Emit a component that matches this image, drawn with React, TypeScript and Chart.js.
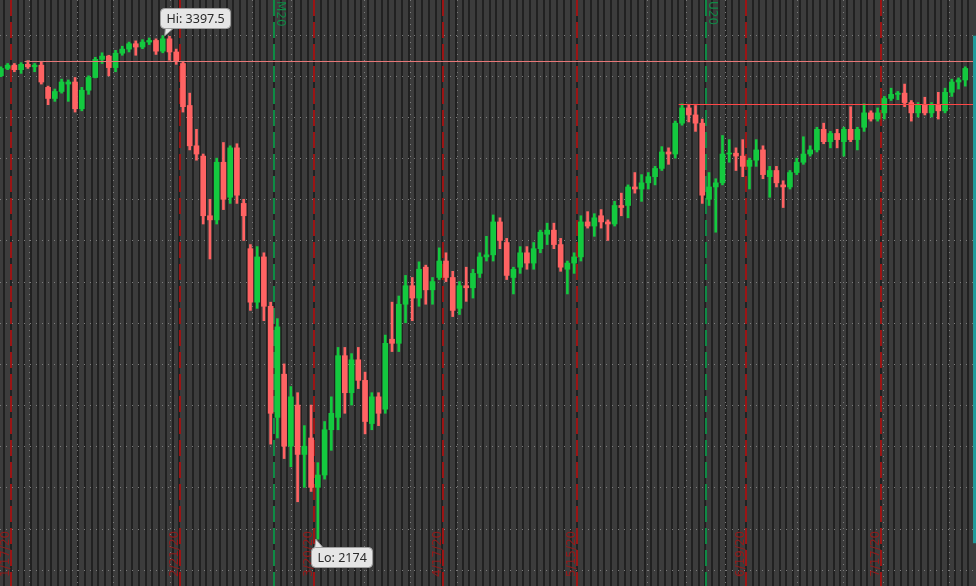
import React, { useEffect, useRef } from 'react';
import { Chart, registerables } from 'chart.js';
Chart.register(...registerables);

// ---- data (one candle per trading session) ----
const dates = ['1/16','1/17','1/20','1/21','1/22','1/23','1/24','1/27','1/28','1/29','1/30','1/31','2/3','2/4','2/5','2/6','2/7','2/10','2/11','2/12','2/13','2/14','2/17','2/18','2/19','2/20','2/21','2/24','2/25','2/26','2/27','2/28','3/2','3/3','3/4','3/5','3/6','3/9','3/10','3/11','3/12','3/13','3/16','3/17','3/18','3/19','3/20','3/23','3/24','3/25','3/26','3/27','3/30','3/31','4/1','4/2','4/3','4/6','4/7','4/8','4/9','4/13','4/14','4/15','4/16','4/17','4/20','4/21','4/22','4/23','4/24','4/27','4/28','4/29','4/30','5/1','5/4','5/5','5/6','5/7','5/8','5/11','5/12','5/13','5/14','5/15','5/18','5/19','5/20','5/21','5/22','5/25','5/26','5/27','5/28','5/29','6/1','6/2','6/3','6/4','6/5','6/8','6/9','6/10','6/11','6/12','6/15','6/16','6/17','6/18','6/19','6/22','6/23','6/24','6/25','6/26','6/29','6/30','7/1','7/2','7/3','7/6','7/7','7/8','7/9','7/10','7/13','7/14','7/15','7/16','7/17','7/20','7/21','7/22','7/23','7/24','7/27','7/28','7/29','7/30','7/31','8/3','8/4','8/5'];

const opens = [3300,3318,3326,3315,3328,3322,3326,3272,3245,3262,
3280,3285,3220,3265,3296,3340,3348,3320,3355,3365,
3378,3370,3382,3386,3360,3390,3358,3330,3228,3130,
3105,2960,2950,3090,3005,3125,2990,2880,2750,2860,
2740,2470,2575,2400,2500,2380,2420,2300,2330,2440,
2470,2620,2530,2610,2560,2455,2520,2490,2660,2650,
2745,2790,2760,2835,2780,2810,2850,2810,2735,2790,
2785,2820,2860,2865,2945,2895,2810,2835,2870,2845,
2880,2915,2925,2890,2830,2845,2860,2945,2935,2960,
2945,2940,2985,2985,3030,3025,3040,3055,3075,3115,
3110,3185,3222,3205,3185,3000,3030,3040,3110,3112,
3105,3080,3095,3120,3055,3070,3035,3030,3065,3090,
3110,3120,3170,3140,3160,3140,3170,3145,3175,3210,
3195,3210,3245,3255,3258,3235,3210,3230,3210,3230,
3215,3260,3285,3290];

const highs = [3322,3330,3330,3332,3337,3330,3334,3275,3268,3292,
3290,3296,3272,3300,3345,3356,3350,3362,3372,3382,
3385,3388,3392,3390,3397.5,3396,3365,3335,3258,3170,
3110,3000,3100,3138,3130,3135,3000,2890,2885,2870,
2750,2710,2600,2545,2530,2450,2500,2360,2460,2520,
2640,2640,2625,2640,2580,2530,2530,2670,2750,2765,
2815,2810,2848,2840,2810,2882,2870,2825,2800,2835,
2830,2870,2910,2962,2955,2905,2835,2885,2885,2895,
2925,2942,2942,2905,2850,2870,2960,2970,2965,2975,
2950,2995,3015,3035,3065,3060,3065,3080,3128,3125,
3190,3232,3230,3228,3195,3065,3050,3155,3145,3125,
3145,3100,3145,3130,3080,3080,3045,3070,3100,3152,
3130,3175,3185,3165,3170,3175,3225,3175,3232,3215,
3222,3250,3270,3262,3280,3240,3235,3248,3235,3260,
3270,3292,3295,3322];

const lows = [3298,3315,3310,3306,3318,3310,3280,3230,3238,3258,
3238,3212,3215,3255,3295,3330,3300,3310,3350,3358,
3350,3366,3376,3352,3356,3338,3328,3212,3120,3095,
2940,2855,2940,2975,2990,2990,2900,2730,2735,2705,
2405,2420,2370,2350,2265,2300,2290,2174,2320,2390,
2440,2480,2500,2540,2430,2440,2450,2480,2630,2630,
2700,2705,2740,2745,2745,2805,2800,2715,2720,2752,
2760,2810,2850,2850,2880,2805,2770,2820,2830,2830,
2870,2890,2880,2825,2770,2820,2850,2930,2910,2930,
2900,2935,2960,2955,3015,2995,3025,3035,3070,3085,
3100,3180,3188,3165,2990,2985,2920,3035,3090,3070,
3055,3025,3080,3050,3005,3030,2980,3025,3060,3085,
3105,3115,3135,3125,3125,3105,3140,3120,3165,3190,
3190,3195,3240,3242,3225,3190,3200,3205,3200,3195,
3210,3250,3268,3275];

const closes = [3318,3326,3315,3328,3322,3326,3285,3245,3262,3285,
3285,3220,3265,3296,3340,3348,3320,3355,3365,3378,
3370,3382,3386,3360,3390,3358,3336,3225,3130,3110,
2960,2950,3090,3000,3125,3010,2960,2750,2860,2740,
2480,2690,2400,2520,2380,2400,2300,2330,2440,2480,
2620,2530,2610,2560,2460,2520,2480,2650,2650,2745,
2790,2760,2830,2780,2800,2850,2810,2730,2790,2785,
2820,2860,2865,2945,2900,2815,2830,2870,2845,2880,
2920,2925,2890,2835,2845,2860,2945,2935,2955,2945,
2940,2985,2980,3030,3025,3040,3055,3075,3115,3110,
3185,3222,3205,3185,3010,3030,3040,3110,3112,3105,
3080,3095,3120,3060,3070,3040,3030,3065,3090,3110,
3120,3170,3140,3160,3145,3170,3145,3170,3210,3195,
3210,3245,3255,3258,3235,3210,3230,3210,3230,3215,
3260,3285,3290,3318];

// monthly option expirations (drawn at the end of that session)
const expiryDates = ['1/17','2/21','3/20','4/17','5/15','6/19','7/17'];
const expiryLabels = ['1/17/20','2/21/20','3/20/20','4/17/20','5/15/20','6/19/20','7/17/20'];
// futures roll dates
const rollDates = ['3/12','6/11'];
const rollLabels = ['M20','U20'];
// horizontal price levels (start session, price)
const levelDates = ['1/22','6/8'];
const levelValues = [3335.5, 3231];
// price grid (every 100 points)
const priceTicks = [2100,2200,2300,2400,2500,2600,2700,2800,2900,3000,3100,3200,3300,3400];
// time grid positions (in session units)
const timeTicks = [4.21,11.33,16.58,25.08,37.19,42.97,53.89,60.66,67.59,95.85,101.59,107.37,118.0,124.9,130.84,140.63];

const GREEN = '#14c93f';
const RED = '#ff6363';

export default function App() {
  const ref = useRef<HTMLCanvasElement | null>(null);

  useEffect(() => {
    document.body.style.margin = '0';
    document.body.style.background = '#3c3c3c';
    const canvas = ref.current!;
    const n = dates.length;
    const idx = (d: string) => dates.indexOf(d);
    const colors = closes.map((c, i) => (c >= opens[i] ? GREEN : RED));

    const hiIdx = highs.indexOf(Math.max(...highs));
    const loIdx = lows.indexOf(Math.min(...lows));

    const bgPlugin = {
      id: 'bg',
      beforeDraw(chart: any) {
        const { ctx, scales } = chart;
        const x = scales.x, y = scales.y;
        const W = chart.width, H = chart.height;
        ctx.save();
        ctx.fillStyle = '#3c3c3c';
        ctx.fillRect(0, 0, W, H);
        ctx.fillStyle = '#212121';
        for (let j = -1; j < n; j++) {
          const xb = x.getPixelForValue(j + 0.5);
          ctx.fillRect(Math.round(xb - 1.2), 0, 2, H);
        }
        ctx.strokeStyle = '#7c7c7c';
        ctx.lineWidth = 1;
        ctx.setLineDash([1, 5]);
        priceTicks.forEach((p) => {
          const yy = Math.round(y.getPixelForValue(p)) + 0.5;
          ctx.beginPath();
          ctx.moveTo(0, yy);
          ctx.lineTo(W, yy);
          ctx.stroke();
        });
        timeTicks.forEach((v) => {
          const xx = Math.round(x.getPixelForValue(v)) + 0.5;
          ctx.beginPath();
          ctx.moveTo(xx, 0);
          ctx.lineTo(xx, H);
          ctx.stroke();
        });
        // dashed vertical markers
        ctx.lineWidth = 2;
        ctx.setLineDash([16, 6]);
        ctx.strokeStyle = '#9c1414';
        expiryDates.forEach((d) => {
          const xx = Math.round(x.getPixelForValue(idx(d) + 0.5));
          ctx.beginPath();
          ctx.moveTo(xx, 0);
          ctx.lineTo(xx, H);
          ctx.stroke();
        });
        ctx.strokeStyle = '#0f8a45';
        rollDates.forEach((d) => {
          const xx = Math.round(x.getPixelForValue(idx(d) + 0.5));
          ctx.beginPath();
          ctx.moveTo(xx, 0);
          ctx.lineTo(xx, H);
          ctx.stroke();
        });
        ctx.restore();
      },
      afterDatasetsDraw(chart: any) {
        const { ctx, scales } = chart;
        const x = scales.x, y = scales.y;
        const W = chart.width;
        ctx.save();
        // horizontal levels
        ctx.lineWidth = 1;
        ctx.setLineDash([]);
        levelDates.forEach((d, k) => {
          const xs = x.getPixelForValue(idx(d) - 0.5);
          const yy = Math.round(y.getPixelForValue(levelValues[k])) + 0.5;
          ctx.strokeStyle = k === 0 ? '#e77878' : '#ff4646';
          ctx.beginPath();
          ctx.moveTo(xs, yy);
          ctx.lineTo(W, yy);
          ctx.stroke();
        });
        // right-edge range bar
        ctx.fillStyle = '#229b9b';
        const yh = y.getPixelForValue(highs[hiIdx]);
        const yl = y.getPixelForValue(lows[loIdx]);
        ctx.fillRect(W - 3, yh, 3, yl - yh + 4);

        // date labels
        ctx.font = '12px "DejaVu Sans"';
        ctx.fillStyle = '#961a1a';
        ctx.textAlign = 'left';
        ctx.textBaseline = 'alphabetic';
        expiryDates.forEach((d, k) => {
          const xx = Math.round(x.getPixelForValue(idx(d) + 0.5));
          ctx.save();
          ctx.translate(xx - 2, 577);
          ctx.rotate(-Math.PI / 2);
          ctx.fillText(expiryLabels[k], 0, 0);
          ctx.restore();
        });
        ctx.fillStyle = '#0f8a45';
        rollDates.forEach((d, k) => {
          const xx = Math.round(x.getPixelForValue(idx(d) + 0.5));
          ctx.save();
          ctx.translate(xx + 3, 0);
          ctx.rotate(Math.PI / 2);
          ctx.fillText(rollLabels[k], 1, 0);
          ctx.restore();
        });

        // Hi / Lo callouts
        const callout = (text: string, tx: number, ty: number, below: boolean) => {
          ctx.font = '12.5px "Noto Sans"';
          const tw = ctx.measureText(text).width;
          const w = Math.round(tw + 12);
          const h = 20;
          const left = Math.round(tx - 5) + 0.5;
          const top = Math.round(below ? ty + 8 : ty - 28) + 0.5;
          ctx.fillStyle = '#e6e6e6';
          ctx.strokeStyle = '#a0a0a0';
          ctx.lineWidth = 1;
          ctx.beginPath();
          if (below) {
            ctx.moveTo(left + 3, top + 2);
            ctx.lineTo(tx, ty);
            ctx.lineTo(left + 13, top + 2);
          } else {
            ctx.moveTo(left + 5, top + h - 2);
            ctx.lineTo(tx, ty);
            ctx.lineTo(left + 15, top + h - 2);
          }
          ctx.closePath();
          ctx.fill();
          ctx.stroke();
          ctx.beginPath();
          ctx.roundRect(left, top, w, h, 4);
          ctx.fill();
          ctx.stroke();
          ctx.beginPath();
          if (below) {
            ctx.moveTo(left + 3.5, top + 1.5);
            ctx.lineTo(left + 12.5, top + 1.5);
          } else {
            ctx.moveTo(left + 5.5, top + h - 1.5);
            ctx.lineTo(left + 14.5, top + h - 1.5);
          }
          ctx.strokeStyle = '#e6e6e6';
          ctx.lineWidth = 2;
          ctx.stroke();
          ctx.fillStyle = '#2a2a2a';
          ctx.textBaseline = 'middle';
          ctx.fillText(text, left + 6, top + h / 2 + 0.5);
        };
        callout('Hi: ' + highs[hiIdx], x.getPixelForValue(hiIdx) + 2, y.getPixelForValue(highs[hiIdx]), false);
        callout('Lo: ' + lows[loIdx], x.getPixelForValue(loIdx) - 2, y.getPixelForValue(lows[loIdx]), true);
        ctx.restore();
      },
    };

    const chart = new Chart(canvas, {
      type: 'bar',
      data: {
        datasets: [
          {
            label: 'body',
            data: dates.map((_, i) => ({ x: i, y: [opens[i], closes[i]] })) as any,
            backgroundColor: colors,
            barThickness: 5,
            grouped: false,
            minBarLength: 1,
            borderWidth: 0,
          },
          {
            label: 'wick',
            data: dates.map((_, i) => ({ x: i, y: [lows[i], highs[i]] })) as any,
            backgroundColor: colors,
            barThickness: 2,
            grouped: false,
            borderWidth: 0,
          },
        ],
      },
      options: {
        responsive: false,
        animation: false,
        devicePixelRatio: 1,
        layout: { padding: 0 },
        plugins: { legend: { display: false }, tooltip: { enabled: false } },
        scales: {
          x: { type: 'linear', min: -0.131, max: 144.59, offset: false, display: false },
          y: { type: 'linear', min: 2060.3, max: 3484.3, display: false },
        },
      },
      plugins: [bgPlugin],
    });
    return () => chart.destroy();
  }, []);

  return (
    <div style={{ position: 'fixed', left: 0, top: 0, width: 976, height: 586, background: '#3c3c3c' }}>
      <canvas ref={ref} width={976} height={586} style={{ display: 'block' }} />
    </div>
  );
}
